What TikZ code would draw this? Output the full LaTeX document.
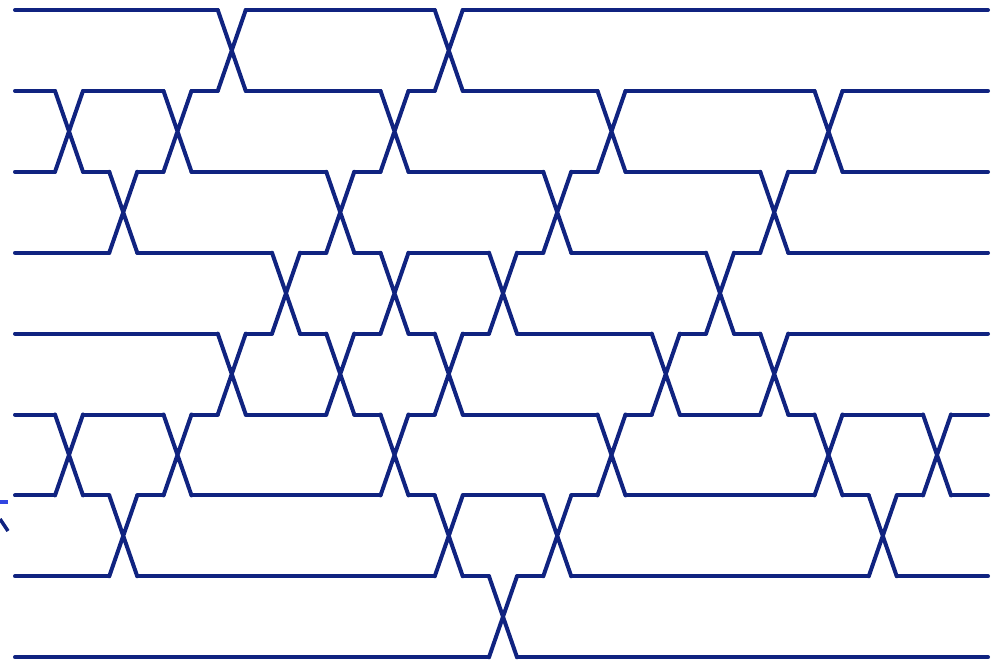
\documentclass[tikz,border=0pt]{standalone}
\usepackage{tikz}
\usepackage{xcolor}
\definecolor{wireblue}{RGB}{16,35,128}
\definecolor{stubblue}{RGB}{50,70,225}

\begin{document}
\begin{tikzpicture}[
    x=0.02cm, y=-0.02cm,
    wire/.style={draw=wireblue, line width=0.08cm, line cap=round},
    stub/.style={line width=0.07cm}
]
    \useasboundingbox (0,0) rectangle (997,667);

    % Horizontal runs of each line, broken at its crossings
    \foreach \i/\cols in {0/{3,7}, 1/{0,2,3,6,7,10,14}, 2/{0,1,2,5,6,9,10,13,14},
        3/{1,4,5,6,8,9,12,13}, 4/{3,4,5,6,7,8,11,12,13}, 5/{0,2,3,5,6,7,10,11,13,14,16},
        6/{0,1,2,6,7,9,10,14,15,16}, 7/{1,7,8,9,15}, 8/{8}}{
        \pgfmathsetmacro{\y}{10+80.9*\i}
        \draw[wire] (15,\y) \foreach \k in \cols {-- ({55+54.25*\k},\y) ({83+54.25*\k},\y)} -- (988,\y);
    }

    % Crossings, column / upper line of each pair
    \foreach \k/\pairs in {0/{1,5}, 1/{2,6}, 2/{1,5}, 3/{0,4}, 4/{3}, 5/{2,4},
        6/{1,3,5}, 7/{0,4,6}, 8/{3,7}, 9/{2,6}, 10/{1,5}, 11/{4}, 12/{3},
        13/{2,4}, 14/{1,5}, 15/{6}, 16/{5}}{
        \pgfmathsetmacro{\xa}{55+54.25*\k}
        \pgfmathsetmacro{\xb}{83+54.25*\k}
        \foreach \p in \pairs {
            \pgfmathsetmacro{\ya}{10+80.9*\p}
            \pgfmathsetmacro{\yb}{\ya+80.9}
            \draw[wire] (\xa,\ya) -- (\xb,\yb) (\xa,\yb) -- (\xb,\ya);
        }
    }

    % Cut-off mark at the left edge
    \draw[stub, stubblue] (0,502) -- (8,502);
    \draw[stub, wireblue] (0,519) -- (8,531);
\end{tikzpicture}
\end{document}
